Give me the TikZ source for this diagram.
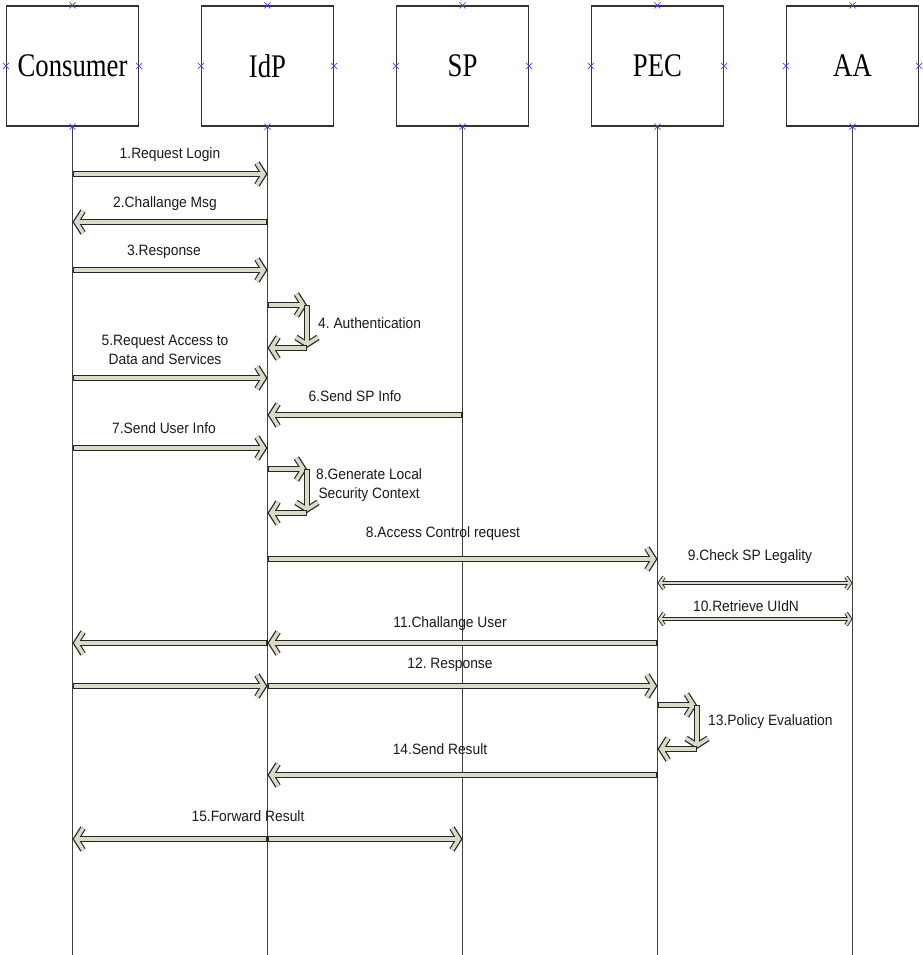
\documentclass[tikz,border=0pt]{standalone}
\usepackage{fontspec}
\setmainfont{Liberation Sans}
\newfontfamily\lblfont[FakeStretch=0.92]{Liberation Sans}
\newfontfamily\boxfont[FakeStretch=0.81]{Liberation Serif}
\usetikzlibrary{arrows.meta}
\definecolor{msgfill}{RGB}{218,218,198}
\definecolor{crossblue}{RGB}{70,70,255}
\frenchspacing

\begin{document}
\begin{tikzpicture}[x=1pt, y=-1pt,
	main/.style = {draw=black!80, line width=1.2pt, minimum width=132pt, minimum height=120pt, font=\boxfont\fontsize{33}{36}\selectfont},
	life/.style = {draw=black!75, line width=1pt},
	msg/.style = {draw=black!85, line width=6pt, -{Straight Barb[length=7pt,width=22pt]},
		postaction={draw=msgfill, line width=3.6pt, shorten >=1.5pt, shorten <=1.2pt, -{Straight Barb[length=7pt,width=22pt]}}},
	ask/.style = {draw=black!85, line width=4pt, {Straight Barb[length=4pt,width=12pt]}-{Straight Barb[length=4pt,width=12pt]},
		postaction={draw=msgfill, line width=2.2pt, shorten >=1.1pt, shorten <=1.1pt, {Straight Barb[length=4pt,width=12pt]}-{Straight Barb[length=4pt,width=12pt]}}},
	lbl/.style = {font=\lblfont\fontsize{15}{19}\selectfont, text=black!90, align=center, inner sep=0pt},
	xmark/.style = {draw=crossblue, line width=0.8pt}]
		\useasboundingbox (0,0) rectangle (922,955);
		\node (consumer) [main] at (72.5,66)  {Consumer};
		\node (idp)      [main] at (267.5,66) {IdP};
		\node (sp)       [main] at (462.5,66) {SP};
		\node (pec)      [main] at (657.5,66) {PEC};
		\node (aa)       [main] at (852.5,66) {AA};
		% lifelines
		\foreach \n in {consumer,idp,sp,pec,aa}
			\draw[life] (\n.south) -- (\n.south |- 0,955);
		% connection points
		\foreach \n in {consumer,idp,sp,pec,aa}
			\foreach \a in {north,south,east,west}
				\draw[xmark] (\n.\a) +(-3,-3) -- +(3,3) +(-3,3) -- +(3,-3);
		% messages
		\draw[msg] (consumer |- 0,174) -- (idp |- 0,174);
		\node (m1) [lbl] at (170,155) {1.Request Login};
		\draw[msg] (idp |- 0,222) -- (consumer |- 0,222);
		\node (m2) [lbl] at (165,204) {2.Challange Msg};
		\draw[msg] (consumer |- 0,270) -- (idp |- 0,270);
		\node (m3) [lbl] at (164,252) {3.Response};
		\coordinate (a4) at (307,305);
		\coordinate (b4) at (307,348);
		\draw[msg] (idp |- a4) -- (a4);
		\draw[msg] (a4) -- (b4);
		\draw[msg] (b4) -- (idp |- b4);
		\node (m4) [lbl, anchor=west] at (318,323) {4. Authentication};
		\draw[msg] (consumer |- 0,378) -- (idp |- 0,378);
		\node (m5) [lbl] at (165,350) {5.Request Access to\\Data and Services};
		\draw[msg] (sp |- 0,415) -- (idp |- 0,415);
		\node (m6) [lbl] at (355,396) {6.Send SP Info};
		\draw[msg] (consumer |- 0,448) -- (idp |- 0,448);
		\node (m7) [lbl] at (164,428) {7.Send User Info};
		\coordinate (a8) at (307,469);
		\coordinate (b8) at (307,513);
		\draw[msg] (idp |- a8) -- (a8);
		\draw[msg] (a8) -- (b8);
		\draw[msg] (b8) -- (idp |- b8);
		\node (m8) [lbl, anchor=west] at (316,485) {8.Generate Local\\Security Context};
		\draw[msg] (idp |- 0,559) -- (pec |- 0,559);
		\node (m9) [lbl] at (443,534) {8.Access Control request};
		\draw[ask] (pec |- 0,583) -- (aa |- 0,583);
		\node (m10) [lbl] at (750,557) {9.Check SP Legality};
		\draw[ask] (pec |- 0,619) -- (aa |- 0,619);
		\node (m11) [lbl] at (746,606) {10.Retrieve UIdN};
		\draw[msg] (pec |- 0,643) -- (idp |- 0,643);
		\draw[msg] (idp |- 0,643) -- (consumer |- 0,643);
		\node (m12) [lbl] at (450,624) {11.Challange User};
		\draw[msg] (consumer |- 0,686) -- (idp |- 0,686);
		\draw[msg] (idp |- 0,686) -- (pec |- 0,686);
		\node (m13) [lbl] at (450,665) {12. Response};
		\coordinate (a13) at (697,705);
		\coordinate (b13) at (697,749);
		\draw[msg] (pec |- a13) -- (a13);
		\draw[msg] (a13) -- (b13);
		\draw[msg] (b13) -- (pec |- b13);
		\node (m14) [lbl, anchor=west] at (708,722) {13.Policy Evaluation};
		\draw[msg] (pec |- 0,775) -- (idp |- 0,775);
		\node (m15) [lbl] at (440,749) {14.Send Result};
		\draw[msg] (idp |- 0,839) -- (consumer |- 0,839);
		\draw[msg] (idp |- 0,839) -- (sp |- 0,839);
		\node (m16) [lbl] at (248,816) {15.Forward Result};
	\end{tikzpicture}
\end{document}
